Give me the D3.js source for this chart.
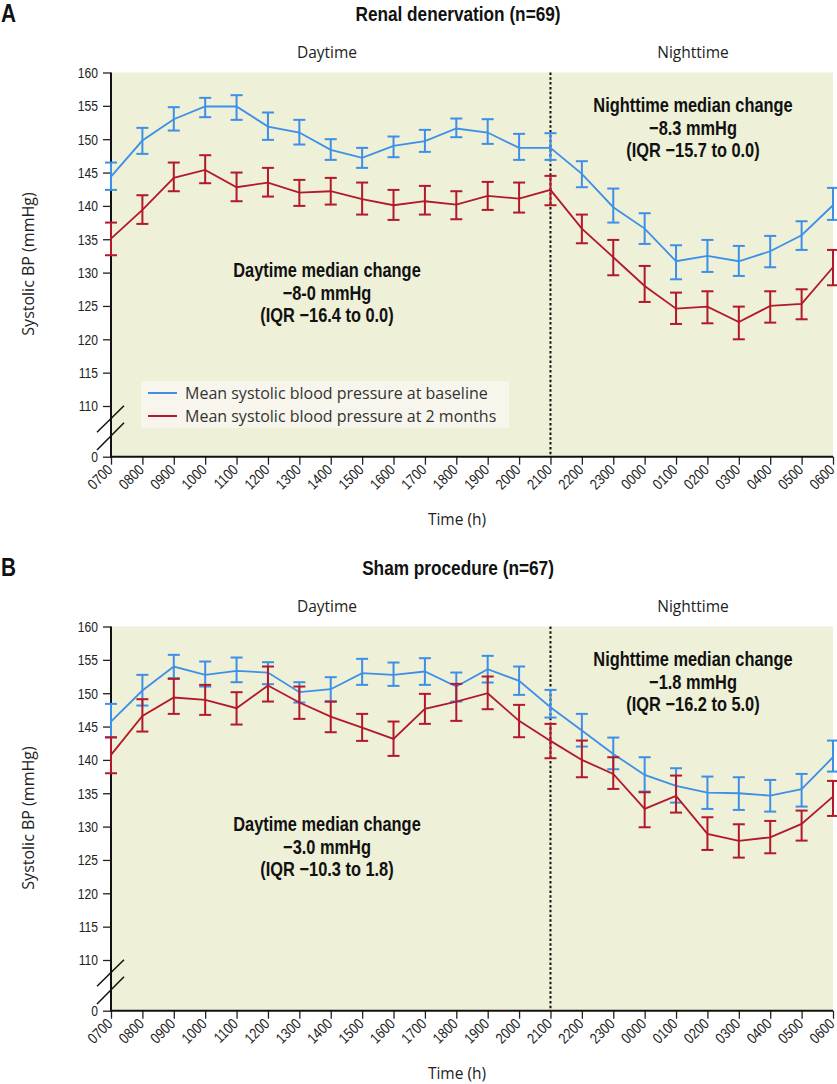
<!DOCTYPE html>
<html><head><meta charset="utf-8">
<script src="https://cdn.jsdelivr.net/npm/d3@7"></script>
<style>
body{margin:0;background:#fff;}
svg{display:block;}
</style></head>
<body>
<svg id="chart" width="837" height="1084"></svg>
<script>
const hours = ["0700","0800","0900","1000","1100","1200","1300","1400","1500","1600","1700","1800","1900","2000","2100","2200","2300","0000","0100","0200","0300","0400","0500","0600"];
const yTicks = [110,115,120,125,130,135,140,145,150,155,160];

// Panel A: renal denervation
const rdnBaseMean = [144.4,149.8,153.0,154.9,154.9,151.9,151.0,148.4,147.2,149.0,149.7,151.6,151.0,148.7,148.7,144.8,139.8,136.6,131.7,132.5,131.7,133.2,135.6,140.1];
const rdnBaseLow  = [142.4,147.8,151.3,153.3,152.9,149.9,149.2,146.9,145.7,147.3,148.1,150.3,149.3,146.9,146.9,142.8,137.5,134.3,129.0,130.1,129.5,130.8,133.4,137.9];
const rdnBaseHigh = [146.5,151.7,154.8,156.2,156.6,154.0,152.9,150.0,148.7,150.4,151.4,153.1,153.0,150.8,150.9,146.7,142.6,138.9,134.1,134.9,134.0,135.5,137.7,142.7];
const rdnFuMean   = [135.1,139.4,144.2,145.4,142.8,143.5,142.0,142.2,141.0,140.1,140.7,140.2,141.5,141.1,142.4,136.6,132.3,128.0,124.6,124.9,122.6,125.0,125.3,130.8];
const rdnFuLow    = [132.6,137.3,142.2,143.4,140.7,141.4,140.0,140.2,138.7,137.9,138.7,138.0,139.4,139.0,140.1,134.4,129.6,125.6,122.3,122.4,120.0,122.5,123.0,128.1];
const rdnFuHigh   = [137.5,141.6,146.5,147.6,145.0,145.7,143.9,144.2,143.5,142.4,143.0,142.2,143.6,143.5,144.5,138.7,134.9,131.0,127.0,127.2,124.9,127.2,127.5,133.4];

// Panel B: sham procedure
const shamBaseMean = [145.75,150.4,154.0,152.75,153.35,153.1,150.15,150.6,153.0,152.75,153.25,151.0,153.6,151.85,147.9,144.4,140.9,137.75,136.1,135.1,135.0,134.65,135.6,140.4];
const shamBaseLow  = [143.35,148.15,152.25,151.0,151.65,151.35,148.6,148.75,151.25,151.1,151.25,148.75,151.6,149.75,146.35,142.0,138.6,135.25,133.6,132.65,132.5,132.25,133.0,138.25];
const shamBaseHigh = [148.4,152.75,155.75,154.75,155.35,154.65,151.65,152.4,155.15,154.6,155.25,153.1,155.6,154.0,150.5,146.9,143.35,140.4,138.75,137.5,137.4,137.0,137.9,142.9];
const shamFuMean   = [140.75,146.6,149.35,149.0,147.75,151.15,148.6,146.5,144.85,143.15,147.65,148.75,150.0,145.85,142.85,140.0,137.9,132.65,134.6,128.9,127.85,128.4,130.4,134.5];
const shamFuLow    = [138.0,144.25,146.9,146.75,145.3,148.75,146.15,144.15,142.85,140.6,145.4,145.85,147.6,143.4,140.25,137.4,135.65,129.9,132.1,126.5,125.35,126.0,127.9,131.6];
const shamFuHigh   = [143.4,149.1,152.15,151.25,150.15,154.0,151.0,148.75,146.9,145.75,149.9,151.4,152.5,148.25,145.4,142.9,140.4,135.15,137.65,131.4,130.35,130.85,132.4,136.85];

const legendLabels = ["Mean systolic blood pressure at baseline","Mean systolic blood pressure at 2 months"];

const panels = [
  {letter:"A", title:"Renal denervation (n=69)", top:0,
   base:[rdnBaseMean,rdnBaseLow,rdnBaseHigh], fu:[rdnFuMean,rdnFuLow,rdnFuHigh],
   day:["Daytime median change","\u22128-0 mmHg","(IQR \u221216.4 to 0.0)"],
   night:["Nighttime median change","\u22128.3 mmHg","(IQR \u221215.7 to 0.0)"], legend:true},
  {letter:"B", title:"Sham procedure (n=67)", top:554,
   base:[shamBaseMean,shamBaseLow,shamBaseHigh], fu:[shamFuMean,shamFuLow,shamFuHigh],
   day:["Daytime median change","\u22123.0 mmHg","(IQR \u221210.3 to 1.8)"],
   night:["Nighttime median change","\u22121.8 mmHg","(IQR \u221216.2 to 5.0)"], legend:false}
];

const BLUE="#3d8fe8", RED="#b3182b", BG="#eef0d7";
const narrowF = "'Liberation Sans',Arial,sans-serif";
const sans = "'Open Sans','Noto Sans',sans-serif";
const svg = d3.select("#chart");

function ctext(parent, tx, ty, f, str, opts){
  return parent.append("text").attr("transform",`translate(${tx},${ty}) scale(${f},1)`)
    .attr("text-anchor",opts.anchor||"start").text(str)
    .attr("font-family",narrowF).attr("font-weight",opts.weight||"normal")
    .attr("font-size",opts.size).attr("fill",opts.fill||"#111");
}

const x0 = 111, x1 = 833;
const x = d3.scalePoint().domain(hours).range([x0,x1]);

panels.forEach(p=>{
  const g = svg.append("g").attr("transform",`translate(0,${p.top})`);
  const yTop = 72.5;
  const y = d3.scaleLinear().domain([110,160]).range([406,yTop]);
  const yZero = 456.7;

  g.append("rect").attr("x",x0).attr("y",yTop).attr("width",x1-x0).attr("height",yZero-yTop).attr("fill",BG);

  ctext(g,1,22,0.8,p.letter,{weight:"bold",size:26});
  ctext(g,458,21,0.82,p.title,{weight:"bold",size:21,anchor:"middle"});

  g.append("text").attr("x",327).attr("y",58).attr("text-anchor","middle").text("Daytime")
    .attr("font-family",sans).attr("font-size",15.5).attr("fill","#222");
  g.append("text").attr("x",693).attr("y",58).attr("text-anchor","middle").text("Nighttime")
    .attr("font-family",sans).attr("font-size",15.5).attr("fill","#222");

  g.append("line").attr("x1",x("2100")).attr("x2",x("2100")).attr("y1",yTop).attr("y2",yZero)
    .attr("stroke","#111").attr("stroke-width",2).attr("stroke-dasharray","2.5,2.3");

  const yf = 0.78;
  const yAxis = d3.axisLeft(y).tickValues(yTicks).tickSize(8).tickPadding(5);
  const ya = g.append("g").attr("transform",`translate(${x0},0)`).call(yAxis);
  ya.select(".domain").remove();
  const y0Axis = d3.axisLeft(d3.scaleLinear().domain([0,1]).range([yZero,yZero-1])).tickValues([0])
    .tickFormat(d3.format("d")).tickSize(8).tickPadding(5);
  const ya0 = g.append("g").attr("transform",`translate(${x0},0)`).call(y0Axis);
  ya0.select(".domain").remove();
  [ya,ya0].forEach(a=>{
    a.selectAll("text").attr("font-family",narrowF).attr("font-size",15.5).attr("fill","#222")
      .attr("x",null).attr("transform",`translate(-13,0) scale(${yf},1)`);
    a.selectAll("line").attr("stroke","#222").attr("stroke-width",1.3);
  });
  g.append("line").attr("x1",x0).attr("x2",x0).attr("y1",yTop).attr("y2",yZero+1)
    .attr("stroke","#111").attr("stroke-width",2);

  [[432.3,405.7],[450,422.7]].forEach(([ya1,ya2])=>{
    g.append("line").attr("x1",97).attr("y1",ya1).attr("x2",124).attr("y2",ya2)
      .attr("stroke","#111").attr("stroke-width",1.5);
  });

  const xAxis = d3.axisBottom(x).tickSize(8).tickPadding(3);
  const xa = g.append("g").attr("transform",`translate(0,${yZero})`).call(xAxis);
  xa.select(".domain").remove();
  xa.selectAll("line").attr("stroke","#222").attr("stroke-width",1.3);
  xa.selectAll("text").attr("font-family",narrowF).attr("font-size",15).attr("fill","#222")
    .attr("text-anchor","end").attr("dy",0).attr("y",0).attr("transform","translate(2,14) rotate(-45) scale(0.84,1)");
  g.append("line").attr("x1",x0-1).attr("x2",x1).attr("y1",yZero).attr("y2",yZero)
    .attr("stroke","#111").attr("stroke-width",2);

  g.append("text").attr("x",457).attr("y",525).attr("text-anchor","middle").text("Time (h)")
    .attr("font-family",sans).attr("font-size",15.5).attr("fill","#222");
  g.append("text").attr("transform",`translate(34,264) rotate(-90)`).attr("text-anchor","middle")
    .text("Systolic BP (mmHg)").attr("font-family",sans).attr("font-size",16).attr("fill","#222");

  const drawSeries = (arr,color)=>{
    const [m,lo,hi] = arr;
    const line = d3.line().x((d,i)=>x(hours[i])).y(d=>y(d));
    g.append("path").datum(m).attr("d",line).attr("fill","none").attr("stroke",color).attr("stroke-width",1.8);
    const eg = g.append("g").attr("stroke",color).attr("stroke-width",2);
    hours.forEach((h,i)=>{
      const cx = x(h);
      eg.append("line").attr("x1",cx).attr("x2",cx).attr("y1",y(lo[i])).attr("y2",y(hi[i]));
      eg.append("line").attr("x1",cx-6).attr("x2",cx+6).attr("y1",y(lo[i])).attr("y2",y(lo[i]));
      eg.append("line").attr("x1",cx-6).attr("x2",cx+6).attr("y1",y(hi[i])).attr("y2",y(hi[i]));
    });
  };
  drawSeries(p.base,BLUE);
  drawSeries(p.fu,RED);

  const ann = (lines,cx,cy)=>{
    lines.forEach((t,i)=>{
      ctext(g,cx,cy+i*22.5,0.78,t,{weight:"bold",size:21,anchor:"middle"});
    });
  };
  ann(p.day,327,277);
  ann(p.night,693,112);

  if(p.legend){
    g.append("rect").attr("x",141).attr("y",381).attr("width",368).attr("height",47).attr("fill","#f8f6ec");
    [BLUE,RED].forEach((c,i)=>{
      const ly = 393+i*23;
      g.append("line").attr("x1",148).attr("x2",177).attr("y1",ly).attr("y2",ly).attr("stroke",c).attr("stroke-width",2);
      g.append("text").attr("x",185).attr("y",ly+5.5).text(legendLabels[i])
        .attr("font-family",sans).attr("font-size",16).attr("fill","#333");
    });
  }
});
</script>
</body></html>
